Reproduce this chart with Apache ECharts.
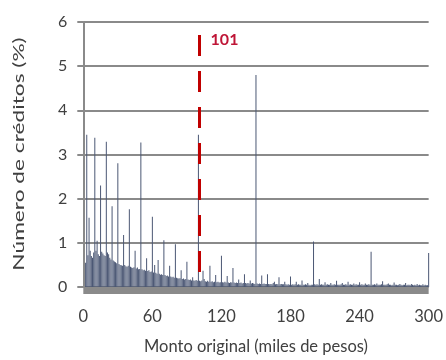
<!DOCTYPE html>
<html>
<head>
<meta charset="utf-8">
<script src="https://cdn.jsdelivr.net/npm/echarts@6/dist/echarts.min.js"></script>
<style>
html,body{margin:0;padding:0;background:#fff;}
#chart{width:446px;height:360px;}
</style>
</head>
<body>
<div id="chart"></div>
<script>
// Share of credits (%) by original amount, one value per thousand pesos (1..300)
const montoInicio = 1;
const porcentajes = [
  0, 0.55, 3.45, 0.72, 1.57, 0.82, 0.70, 0.66, 0.78, 3.38,
  0.82, 1.05, 0.74, 0.70, 2.30, 0.80, 0.76, 0.72, 0.70, 3.29,
  0.78, 0.74, 0.66, 0.62, 1.83, 0.60, 0.58, 0.56, 0.54, 2.80,
  0.52, 0.50, 0.49, 0.48, 1.18, 0.50, 0.47, 0.46, 0.48, 1.76,
  0.46, 0.44, 0.43, 0.45, 0.82, 0.42, 0.44, 0.40, 0.41, 3.27,
  0.40, 0.38, 0.39, 0.37, 0.65, 0.36, 0.38, 0.34, 0.35, 1.59,
  0.33, 0.50, 0.32, 0.30, 0.61, 0.30, 0.28, 0.29, 0.27, 1.06,
  0.27, 0.25, 0.26, 0.24, 0.48, 0.24, 0.22, 0.23, 0.21, 0.97,
  0.21, 0.20, 0.19, 0.20, 0.38, 0.18, 0.19, 0.17, 0.18, 0.57,
  0.17, 0.16, 0.17, 0.15, 0.22, 0.15, 0.14, 0.16, 0.14, 3.45,
  0.14, 0.13, 0.15, 0.37, 0.18, 0.13, 0.12, 0.14, 0.12, 0.48,
  0.12, 0.13, 0.11, 0.12, 0.27, 0.11, 0.12, 0.10, 0.11, 0.71,
  0.11, 0.10, 0.12, 0.10, 0.25, 0.10, 0.09, 0.11, 0.10, 0.43,
  0.10, 0.09, 0.10, 0.09, 0.17, 0.09, 0.10, 0.08, 0.09, 0.29,
  0.09, 0.08, 0.09, 0.08, 0.15, 0.08, 0.09, 0.08, 0.07, 4.80,
  0.08, 0.07, 0.08, 0.07, 0.26, 0.07, 0.08, 0.07, 0.07, 0.29,
  0.07, 0.06, 0.07, 0.06, 0.09, 0.12, 0.06, 0.07, 0.06, 0.22,
  0.06, 0.07, 0.06, 0.06, 0.12, 0.06, 0.05, 0.06, 0.05, 0.24,
  0.05, 0.06, 0.05, 0.06, 0.12, 0.05, 0.06, 0.05, 0.05, 0.15,
  0.05, 0.05, 0.06, 0.05, 0.09, 0.05, 0.04, 0.05, 0.05, 1.03,
  0.06, 0.05, 0.06, 0.05, 0.18, 0.05, 0.06, 0.05, 0.05, 0.11,
  0.05, 0.06, 0.05, 0.05, 0.09, 0.05, 0.05, 0.06, 0.05, 0.14,
  0.05, 0.05, 0.05, 0.06, 0.09, 0.05, 0.05, 0.06, 0.05, 0.12,
  0.05, 0.06, 0.05, 0.05, 0.08, 0.05, 0.06, 0.05, 0.05, 0.11,
  0.05, 0.06, 0.05, 0.05, 0.08, 0.05, 0.05, 0.06, 0.05, 0.80,
  0.05, 0.05, 0.06, 0.05, 0.08, 0.05, 0.05, 0.05, 0.06, 0.13,
  0.05, 0.05, 0.05, 0.06, 0.08, 0.05, 0.05, 0.04, 0.05, 0.10,
  0.05, 0.05, 0.04, 0.05, 0.07, 0.05, 0.04, 0.05, 0.05, 0.09,
  0.04, 0.05, 0.05, 0.04, 0.07, 0.05, 0.04, 0.05, 0.04, 0.07,
  0.04, 0.05, 0.04, 0.04, 0.06, 0.04, 0.05, 0.04, 0.04, 0.77
];
const xTicks = [0, 60, 120, 180, 240, 300];
const yTicks = [0, 1, 2, 3, 4, 5, 6];
const referencia = 101;
const referenciaEtiqueta = '101';
const xNombre = 'Monto original (miles de pesos)';
const yNombre = 'Número de créditos (%)';

const serieDatos = porcentajes.map((v, i) => [montoInicio + i, v]);
const FONT = 'Lato, "Open Sans", sans-serif';
const gridGray = '#8a8a8a';
const textGray = '#404040';

const chart = echarts.init(document.getElementById('chart'), null, {renderer: 'canvas'});
chart.setOption({
  animation: false,
  backgroundColor: '#ffffff',
  grid: {left: 83.3, right: 15.7, top: 22, bottom: 72, containLabel: false},
  xAxis: {
    type: 'value',
    min: xTicks[0], max: xTicks[xTicks.length - 1], interval: 60,
    offset: 3,
    axisLine: {show: true, onZero: false, lineStyle: {color: '#8a8a8a', width: 7, cap: 'butt'}},
    axisTick: {show: false},
    splitLine: {show: false},
    axisLabel: {margin: 18, fontSize: 16.5, color: textGray, fontFamily: FONT},
    name: xNombre, nameLocation: 'middle', nameGap: 48,
    nameTextStyle: {fontSize: 16.5, color: textGray, fontFamily: FONT}
  },
  yAxis: {
    type: 'value',
    min: yTicks[0], max: yTicks[yTicks.length - 1], interval: 1,
    axisLine: {show: true, lineStyle: {color: gridGray, width: 2}},
    axisTick: {show: true, length: 6, lineStyle: {color: gridGray, width: 2}},
    splitLine: {show: true, lineStyle: {color: gridGray, width: 2}},
    axisLabel: {margin: 16, fontSize: 16, color: textGray, fontFamily: FONT}
  },
  graphic: [{
    type: 'text',
    x: 19, y: 154,
    rotation: Math.PI / 2,
    scaleX: 1.42, scaleY: 1,
    style: {
      text: yNombre, fontSize: 16, fill: textGray, fontFamily: FONT,
      textAlign: 'center', textVerticalAlign: 'middle'
    }
  }],
  series: [{
    type: 'bar',
    data: serieDatos,
    barWidth: 1.0,
    itemStyle: {color: '#4b5774'},
    z: 2,
    markLine: {
      silent: true,
      symbol: ['none', 'none'],
      label: {show: false},
      lineStyle: {color: '#c00000', width: 3, type: [21, 15], dashOffset: 21},
      data: [[{coord: [referencia, 0]}, {coord: [referencia, 5.9]}]]
    },
    markPoint: {
      silent: true,
      symbol: 'rect', symbolSize: 0,
      label: {show: true, position: 'right', distance: 11, formatter: referenciaEtiqueta,
        fontSize: 16, fontWeight: 'bold', color: '#bf1536', fontFamily: FONT},
      data: [{coord: [referencia, 5.59]}]
    }
  }]
});
</script>
</body>
</html>
